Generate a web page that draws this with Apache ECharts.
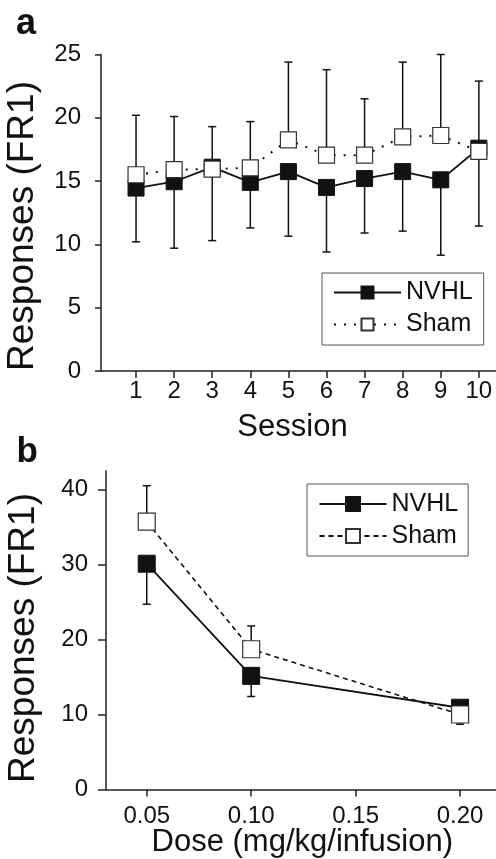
<!DOCTYPE html>
<html>
<head>
<meta charset="utf-8">
<script src="https://cdn.jsdelivr.net/npm/echarts@6/dist/echarts.min.js"></script>
<style>html,body{margin:0;padding:0;background:#fff;}#c{width:496px;height:859px;}</style>
</head>
<body>
<div id="c"></div>
<script>
// ---- Panel a data ----
const sessions = [1, 2, 3, 4, 5, 6, 7, 8, 9, 10];
const nvhlA = [14.45, 14.95, 16.1, 14.9, 15.75, 14.5, 15.2, 15.75, 15.1, 17.6];
const shamA = [15.5, 15.9, 15.95, 16.05, 18.25, 17.05, 17.05, 18.5, 18.6, 17.35];
const nvhlErrEndA = [10.2, 9.7, 10.3, 11.3, 10.65, 9.4, 10.9, 11.05, 9.15, 11.45];
const shamErrEndA = [20.2, 20.1, 19.3, 19.7, 24.4, 23.8, 21.5, 24.4, 25.0, 22.9];
const yTicksA = [0, 5, 10, 15, 20, 25];

// ---- Panel b data ----
const doses = [0.05, 0.10, 0.20];
const nvhlB = [30.1, 15.15, 10.9];
const shamB = [35.7, 18.7, 10.0];
const nvhlErrEndB = [24.7, 12.4, 11.8];
const shamErrEndB = [40.5, 21.8, 8.7];
const doseTicks = [0.05, 0.10, 0.15, 0.20];
const yTicksB = [0, 10, 20, 30, 40];

const FONT = "'Liberation Sans', Arial, Helvetica, sans-serif";
const INK = '#111';
const AXC = '#222';

function errRender(capHalf) {
  return function (params, api) {
    const x = api.value(0), m = api.value(1), e = api.value(2);
    const p0 = api.coord([x, m]);
    const p1 = api.coord([x, e]);
    const st = { stroke: INK, lineWidth: 1.5 };
    return {
      type: 'group',
      children: [
        { type: 'line', shape: { x1: p0[0], y1: p0[1], x2: p1[0], y2: p1[1] }, style: st },
        { type: 'line', shape: { x1: p1[0] - capHalf, y1: p1[1], x2: p1[0] + capHalf, y2: p1[1] }, style: st }
      ]
    };
  };
}

const pairs = (xs, ys) => xs.map((x, i) => [x, ys[i]]);
const triples = (xs, ys, es) => xs.map((x, i) => [x, ys[i], es[i]]);

const axisLineStyle = { color: AXC, width: 1.5 };
const labelStyle = { fontSize: 24, color: INK, fontFamily: FONT };

const chart = echarts.init(document.getElementById('c'), null, { renderer: 'canvas' });
chart.setOption({
  animation: false,
  backgroundColor: '#fff',
  grid: [
    { left: 101, top: 54.5, width: 395, height: 316.5 },
    { left: 106, top: 470.7, width: 390, height: 318.8 }
  ],
  xAxis: [
    {
      gridIndex: 0, type: 'value', min: 0.08, max: 10.45,
      axisLine: { show: true, onZero: false, lineStyle: axisLineStyle },
      axisTick: { show: true, length: 7, customValues: sessions, lineStyle: axisLineStyle },
      axisLabel: Object.assign({ customValues: sessions, margin: 8 }, labelStyle),
      splitLine: { show: false }
    },
    {
      gridIndex: 1, type: 'value', min: 0.0305, max: 0.2172,
      axisLine: { show: true, onZero: false, lineStyle: axisLineStyle },
      axisTick: { show: true, length: 7, customValues: doseTicks, lineStyle: axisLineStyle },
      axisLabel: Object.assign({ customValues: doseTicks, margin: 15, formatter: v => v.toFixed(2) }, labelStyle),
      splitLine: { show: false }
    }
  ],
  yAxis: [
    {
      gridIndex: 0, type: 'value', min: 0, max: 25,
      axisLine: { show: true, onZero: false, lineStyle: axisLineStyle },
      axisTick: { show: true, length: 6, customValues: yTicksA, lineStyle: axisLineStyle },
      axisLabel: Object.assign({ customValues: yTicksA, margin: 20 }, labelStyle),
      splitLine: { show: false }
    },
    {
      gridIndex: 1, type: 'value', min: 0, max: 42.5,
      axisLine: { show: true, onZero: false, lineStyle: axisLineStyle },
      axisTick: { show: true, length: 8, customValues: yTicksB, lineStyle: axisLineStyle },
      axisLabel: Object.assign({ customValues: yTicksB, margin: 18 }, labelStyle),
      splitLine: { show: false }
    }
  ],
  legend: [
    {
      data: ['NVHL', 'Sham'], orient: 'vertical', left: 322, top: 273,
      padding: [7, 11, 8, 11], itemGap: 7, itemWidth: 67, itemHeight: 15,
      borderColor: '#555', borderWidth: 1, selectedMode: false,
      textStyle: { fontSize: 25, color: INK, fontFamily: FONT }
    },
    {
      data: ['NVHL ', 'Sham '], formatter: n => n.trim(), orient: 'vertical', left: 307, top: 484,
      padding: [7.5, 10, 7.5, 11.5], itemGap: 7, itemWidth: 67, itemHeight: 17.5,
      borderColor: '#555', borderWidth: 1, selectedMode: false,
      textStyle: { fontSize: 25, color: INK, fontFamily: FONT }
    }
  ],
  series: [
    // panel a
    { type: 'custom', name: 'errNvhlA', xAxisIndex: 0, yAxisIndex: 0, z: 1, silent: true,
      renderItem: errRender(4), encode: { x: 0, y: [1, 2] }, data: triples(sessions, nvhlA, nvhlErrEndA) },
    { type: 'custom', name: 'errShamA', xAxisIndex: 0, yAxisIndex: 0, z: 1, silent: true,
      renderItem: errRender(4), encode: { x: 0, y: [1, 2] }, data: triples(sessions, shamA, shamErrEndA) },
    { type: 'line', name: 'NVHL', xAxisIndex: 0, yAxisIndex: 0, z: 2,
      data: pairs(sessions, nvhlA), symbol: 'rect', symbolSize: 16,
      lineStyle: { color: INK, width: 1.8, type: 'solid' },
      itemStyle: { color: INK, borderColor: INK, borderWidth: 1 } },
    { type: 'line', name: 'Sham', xAxisIndex: 0, yAxisIndex: 0, z: 3,
      data: pairs(sessions, shamA), symbol: 'rect', symbolSize: 16,
      lineStyle: { color: INK, width: 2, type: [2, 8] },
      itemStyle: { color: '#fff', borderColor: '#333', borderWidth: 1.2 } },
    // panel b
    { type: 'custom', name: 'errNvhlB', xAxisIndex: 1, yAxisIndex: 1, z: 1, silent: true,
      renderItem: errRender(4), encode: { x: 0, y: [1, 2] }, data: triples(doses, nvhlB, nvhlErrEndB) },
    { type: 'custom', name: 'errShamB', xAxisIndex: 1, yAxisIndex: 1, z: 1, silent: true,
      renderItem: errRender(4), encode: { x: 0, y: [1, 2] }, data: triples(doses, shamB, shamErrEndB) },
    { type: 'line', name: 'NVHL ', xAxisIndex: 1, yAxisIndex: 1, z: 2,
      data: pairs(doses, nvhlB), symbol: 'rect', symbolSize: 17,
      lineStyle: { color: INK, width: 1.8, type: 'solid' },
      itemStyle: { color: INK, borderColor: INK, borderWidth: 1 } },
    { type: 'line', name: 'Sham ', xAxisIndex: 1, yAxisIndex: 1, z: 3,
      data: pairs(doses, shamB), symbol: 'rect', symbolSize: 17,
      lineStyle: { color: INK, width: 1.6, type: [5, 4] },
      itemStyle: { color: '#fff', borderColor: '#333', borderWidth: 1.2 } }
  ],
  graphic: [
    { type: 'text', x: 16, y: 24, style: { text: 'a', font: 'bold 36px ' + FONT, fill: INK, textAlign: 'left', textVerticalAlign: 'middle' } },
    { type: 'text', x: 16.5, y: 452, style: { text: 'b', font: 'bold 35px ' + FONT, fill: INK, textAlign: 'left', textVerticalAlign: 'middle' } },
    { type: 'text', x: 23, y: 226, rotation: Math.PI / 2, style: { text: 'Responses (FR1)', font: '37px ' + FONT, fill: INK, textAlign: 'center', textVerticalAlign: 'middle' } },
    { type: 'text', x: 24, y: 638, rotation: Math.PI / 2, style: { text: 'Responses (FR1)', font: '37px ' + FONT, fill: INK, textAlign: 'center', textVerticalAlign: 'middle' } },
    { type: 'text', x: 292.5, y: 427.5, style: { text: 'Session', font: '31px ' + FONT, fill: INK, textAlign: 'center', textVerticalAlign: 'middle' } },
    { type: 'text', x: 302.3, y: 842.4, style: { text: 'Dose (mg/kg/infusion)', font: '31px ' + FONT, fill: INK, textAlign: 'center', textVerticalAlign: 'middle' } }
  ]
});
</script>
</body>
</html>
